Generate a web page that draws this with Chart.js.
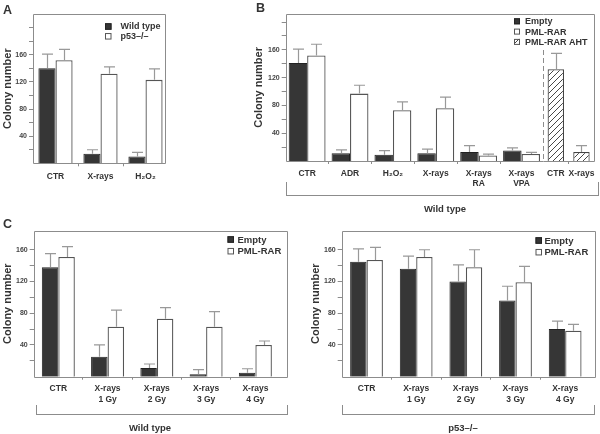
<!DOCTYPE html>
<html><head><meta charset="utf-8">
<script src="https://cdn.jsdelivr.net/npm/chart.js@4.4.1/dist/chart.umd.min.js"></script>
<style>
html,body{margin:0;padding:0;background:#fff;}
#wrap{position:relative;width:600px;height:434px;overflow:hidden;font-family:"Liberation Sans",Arial,sans-serif;font-weight:bold;color:#333;}
canvas{position:absolute;left:0;top:0;}
.lbl{position:absolute;white-space:nowrap;transform:translate(-50%,-50%);font-size:9.5px;}
.letter{position:absolute;font-size:12.5px;line-height:1;}
.br{position:absolute;border:1px solid #8c8c8c;border-top:none;box-sizing:border-box;}
</style></head><body>
<div id="wrap">
<canvas id="cA" width="600" height="434"></canvas>
<canvas id="cB1" width="600" height="434"></canvas>
<canvas id="cB2" width="600" height="434"></canvas>
<canvas id="cC1" width="600" height="434"></canvas>
<canvas id="cC2" width="600" height="434"></canvas>
<div class="letter" style="left:3px;top:4px;">A</div>
<div class="letter" style="left:256px;top:2px;">B</div>
<div class="letter" style="left:3px;top:218px;">C</div>
<div class="br" style="left:286px;top:182px;width:313px;height:14px;"></div>
<div class="lbl" style="left:445px;top:208px;">Wild type</div>
<div class="br" style="left:36px;top:405px;width:252px;height:10px;"></div>
<div class="lbl" style="left:150px;top:427px;">Wild type</div>
<div class="br" style="left:342px;top:405px;width:253px;height:10px;"></div>
<div class="lbl" style="left:463px;top:427px;">p53–/–</div>
</div>
<script>
// ---------- data ----------
const catsA = ['CTR', 'X-rays', 'H₂O₂'];
const wildTypeA = [140, 14, 10];
const wildTypeErrA = [21, 6, 6];
const p53A = [152, 132, 123];
const p53ErrA = [16, 10, 16];

const catsB = ['CTR', 'ADR', 'H₂O₂', 'X-rays', ['X-rays', 'RA'], ['X-rays', 'VPA']];
const emptyB = [141, 11, 9, 11, 13, 15];
const emptyErrB = [20, 5, 6, 6, 9, 4];
const pmlB = [152, 97, 73, 76, 8, 10];
const pmlErrB = [16, 12, 12, 16, 2, 2.5];
const catsAHT = ['CTR', 'X-rays'];
const ahtB = [132, 13];
const ahtErrB = [23, 9];

const catsC = ['CTR', ['X-rays', '1 Gy'], ['X-rays', '2 Gy'], ['X-rays', '3 Gy'], ['X-rays', '4 Gy']];
const emptyWT = [138, 25, 11, 3, 5];
const emptyWTErr = [17, 15, 5, 6, 5];
const pmlWT = [151, 63, 73, 63, 40];
const pmlWTErr = [13, 21, 14, 19, 5];
const emptyP53 = [145, 136, 120, 96, 60];
const emptyP53Err = [16, 16, 21, 18, 10];
const pmlP53 = [147, 151, 138, 119, 58];
const pmlP53Err = [16, 9, 22, 20, 8];

const yTickLabels = [40, 80, 120, 160];

// ---------- styles ----------
const FONT = '"Liberation Sans", Arial, sans-serif';
const DARK = '#363636';
const GRAY = '#8c8c8c';
const TXT = '#333';

function hatchPattern() {
  const c = document.createElement('canvas');
  c.width = 6; c.height = 6;
  const g = c.getContext('2d');
  g.fillStyle = '#fff'; g.fillRect(0, 0, 6, 6);
  g.strokeStyle = '#333'; g.lineWidth = 0.9;
  g.beginPath();
  g.moveTo(0, 6); g.lineTo(6, 0);
  g.moveTo(-1, 1); g.lineTo(1, -1);
  g.moveTo(5, 7); g.lineTo(7, 5);
  g.stroke();
  return g.createPattern(c, 'repeat');
}
const HATCH = hatchPattern();

function darkSet(label, data, errors) {
  return { label, data, errors, backgroundColor: DARK, borderColor: '#222', borderWidth: 1 };
}
function whiteSet(label, data, errors) {
  return { label, data, errors, backgroundColor: '#fff', borderColor: '#555', borderWidth: 1.3 };
}
function hatchSet(label, data, errors) {
  return { label, data, errors, backgroundColor: HATCH, borderColor: '#444', borderWidth: 1.2 };
}

// ---------- plugins ----------
const framePlugin = {
  id: 'frame',
  afterDatasetsDraw(chart, args, o) {
    if (!o || !o.sides) return;
    const ca = chart.chartArea;
    const L = Math.round(ca.left) + 0.5, T = Math.round(ca.top) + 0.5, B = Math.round(ca.bottom) + 0.5;
    const R = Math.round(o.right != null ? o.right : ca.right) + 0.5;
    const ctx = chart.ctx;
    ctx.save();
    ctx.strokeStyle = GRAY; ctx.lineWidth = 1;
    ctx.beginPath();
    if (o.sides.includes('t')) { ctx.moveTo(L, T); ctx.lineTo(R, T); }
    if (o.sides.includes('b')) { ctx.moveTo(L, B); ctx.lineTo(R, B); }
    if (o.sides.includes('l')) { ctx.moveTo(L, T); ctx.lineTo(L, B); }
    if (o.sides.includes('r')) { ctx.moveTo(R, T); ctx.lineTo(R, B); }
    ctx.stroke();
    if (o.dashLeft) {
      ctx.setLineDash([5, 3]);
      ctx.beginPath(); ctx.moveTo(L, o.dashTop); ctx.lineTo(L, B); ctx.stroke();
    }
    ctx.restore();
  }
};

const errorPlugin = {
  id: 'errbars',
  afterDatasetsDraw(chart) {
    const ctx = chart.ctx, ys = chart.scales.y;
    ctx.save();
    ctx.strokeStyle = '#999'; ctx.lineWidth = 1.2;
    chart.data.datasets.forEach((ds, di) => {
      const meta = chart.getDatasetMeta(di);
      meta.data.forEach((bar, i) => {
        const e = ds.errors ? ds.errors[i] : null;
        if (e == null || ds.data[i] == null) return;
        const top = ys.getPixelForValue(ds.data[i] + e);
        const cap = 5.5;
        const x = Math.round(bar.x) + 0.5;
        ctx.beginPath();
        ctx.moveTo(x, bar.y); ctx.lineTo(x, top);
        ctx.moveTo(x - cap, top); ctx.lineTo(x + cap, top);
        ctx.stroke();
      });
    });
    ctx.restore();
  }
};

const legendPlugin = {
  id: 'boxLegend',
  afterDraw(chart, args, o) {
    if (!o || o.x == null) return;
    const ctx = chart.ctx;
    ctx.save();
    ctx.font = 'bold ' + o.size + 'px ' + FONT;
    ctx.textBaseline = 'middle';
    ctx.fillStyle = TXT;
    chart.data.datasets.forEach((ds, i) => {
      const cy = o.y + i * o.row;
      const s = o.box;
      ctx.fillStyle = ds.backgroundColor;
      ctx.fillRect(o.x, cy - s / 2, s, s);
      ctx.strokeStyle = ds.backgroundColor === DARK ? '#222' : '#555';
      ctx.lineWidth = 1;
      ctx.strokeRect(o.x + 0.5, cy - s / 2 + 0.5, s - 1, s - 1);
      ctx.fillStyle = TXT;
      ctx.fillText(ds.label, o.x + o.textDx, cy + 0.5);
    });
    ctx.restore();
  }
};

Chart.register(framePlugin, errorPlugin, legendPlugin);

function panel(id, labels, datasets, o) {
  return new Chart(document.getElementById(id), {
    type: 'bar',
    data: { labels, datasets },
    options: {
      responsive: false, animation: false, devicePixelRatio: 1,
      layout: { padding: o.pad },
      plugins: {
        legend: { display: false }, tooltip: { enabled: false },
        frame: o.frame, boxLegend: o.legend || {}
      },
      datasets: { bar: { categoryPercentage: o.cat, barPercentage: 1 } },
      scales: {
        x: {
          afterFit: s => { s.height = o.xH; },
          border: { display: false },
          grid: {
            drawOnChartArea: false, drawTicks: true, tickLength: 3, lineWidth: 1,
            tickColor: c => (c.index === undefined || c.index === 0) ? 'rgba(0,0,0,0)' : GRAY
          },
          ticks: {
            autoSkip: false, maxRotation: 0, padding: o.xPad, color: TXT,
            font: { family: FONT, size: 8.5, weight: 'bold', lineHeight: o.xLH }
          }
        },
        y: {
          display: o.yShow, min: 0, max: o.max,
          afterFit: s => { if (o.yShow) s.width = o.yW; },
          afterBuildTicks: s => { s.ticks = s.ticks.filter(t => t.value > 0 && t.value < o.max && t.value % 20 === 0); },
          border: { display: false },
          grid: { drawOnChartArea: false, tickLength: 4, color: GRAY },
          ticks: {
            stepSize: 20, padding: 2, color: '#444',
            font: { family: FONT, size: 7, weight: 'bold' },
            callback: v => yTickLabels.includes(v) ? String(v) : ''
          },
          title: {
            display: true, text: 'Colony number', color: TXT,
            font: { family: FONT, size: 11, weight: 'bold' }, padding: { top: 1, bottom: 0 }
          }
        }
      }
    }
  });
}

// Panel A
panel('cA', catsA, [
  darkSet('Wild type', wildTypeA, wildTypeErrA),
  whiteSet('p53–/–', p53A, p53ErrA)
], {
  pad: { left: 0, right: 432, top: 14, bottom: 240.7 },
  yW: 33, xH: 30, xPad: 5.5, xLH: 1.2, max: 220, cat: 0.76, yShow: true,
  frame: { sides: 'tblr', right: 165 },
  legend: { x: 105, y: 26.5, row: 9.8, box: 6.5, textDx: 15.5, size: 9 }
});

// Panel B (wild type, Empty / PML-RAR)
panel('cB1', catsB, [
  darkSet('Empty', emptyB, emptyErrB),
  whiteSet('PML-RAR', pmlB, pmlErrB)
], {
  pad: { left: 251.4, right: 57, top: 13.7, bottom: 233 },
  yW: 34.3, xH: 40, xPad: 5.3, xLH: 1.1, max: 212, cat: 0.86, yShow: true,
  frame: { sides: 'tbl' },
  legend: { x: 514, y: 21.3, row: 10.3, box: 6, textDx: 11, size: 9 }
});

// Panel B (PML-RAR AHT)
panel('cB2', catsAHT, [
  hatchSet('PML-RAR AHT', ahtB, ahtErrB)
], {
  pad: { left: 543, right: 1, top: 13.7, bottom: 233 },
  yW: 0, xH: 40, xPad: 5.3, xLH: 1.1, max: 212, cat: 0.64, yShow: false,
  frame: { sides: 'tbr', dashLeft: true, dashTop: 50 },
  legend: { x: 514, y: 41.9, row: 10.3, box: 6, textDx: 11, size: 9 }
});

// Panel C wild type
panel('cC1', catsC, [
  darkSet('Empty', emptyWT, emptyWTErr),
  whiteSet('PML-RAR', pmlWT, pmlWTErr)
], {
  pad: { left: 0, right: 320, top: 230.7, bottom: 17.3 },
  yW: 33.7, xH: 40, xPad: 3.3, xLH: 1.3, max: 184, cat: 0.67, yShow: true,
  frame: { sides: 'tblr', right: 287.3 },
  legend: { x: 227.5, y: 239.5, row: 11.7, box: 6.5, textDx: 10, size: 9.5 }
});

// Panel C p53-/-
panel('cC2', catsC, [
  darkSet('Empty', emptyP53, emptyP53Err),
  whiteSet('PML-RAR', pmlP53, pmlP53Err)
], {
  pad: { left: 308.4, right: 10, top: 230.7, bottom: 17.3 },
  yW: 33.3, xH: 40, xPad: 3.3, xLH: 1.3, max: 184, cat: 0.66, yShow: true,
  frame: { sides: 'tblr', right: 595 },
  legend: { x: 535.5, y: 240.5, row: 11.7, box: 6.5, textDx: 9, size: 9.5 }
});
</script>
</body></html>
